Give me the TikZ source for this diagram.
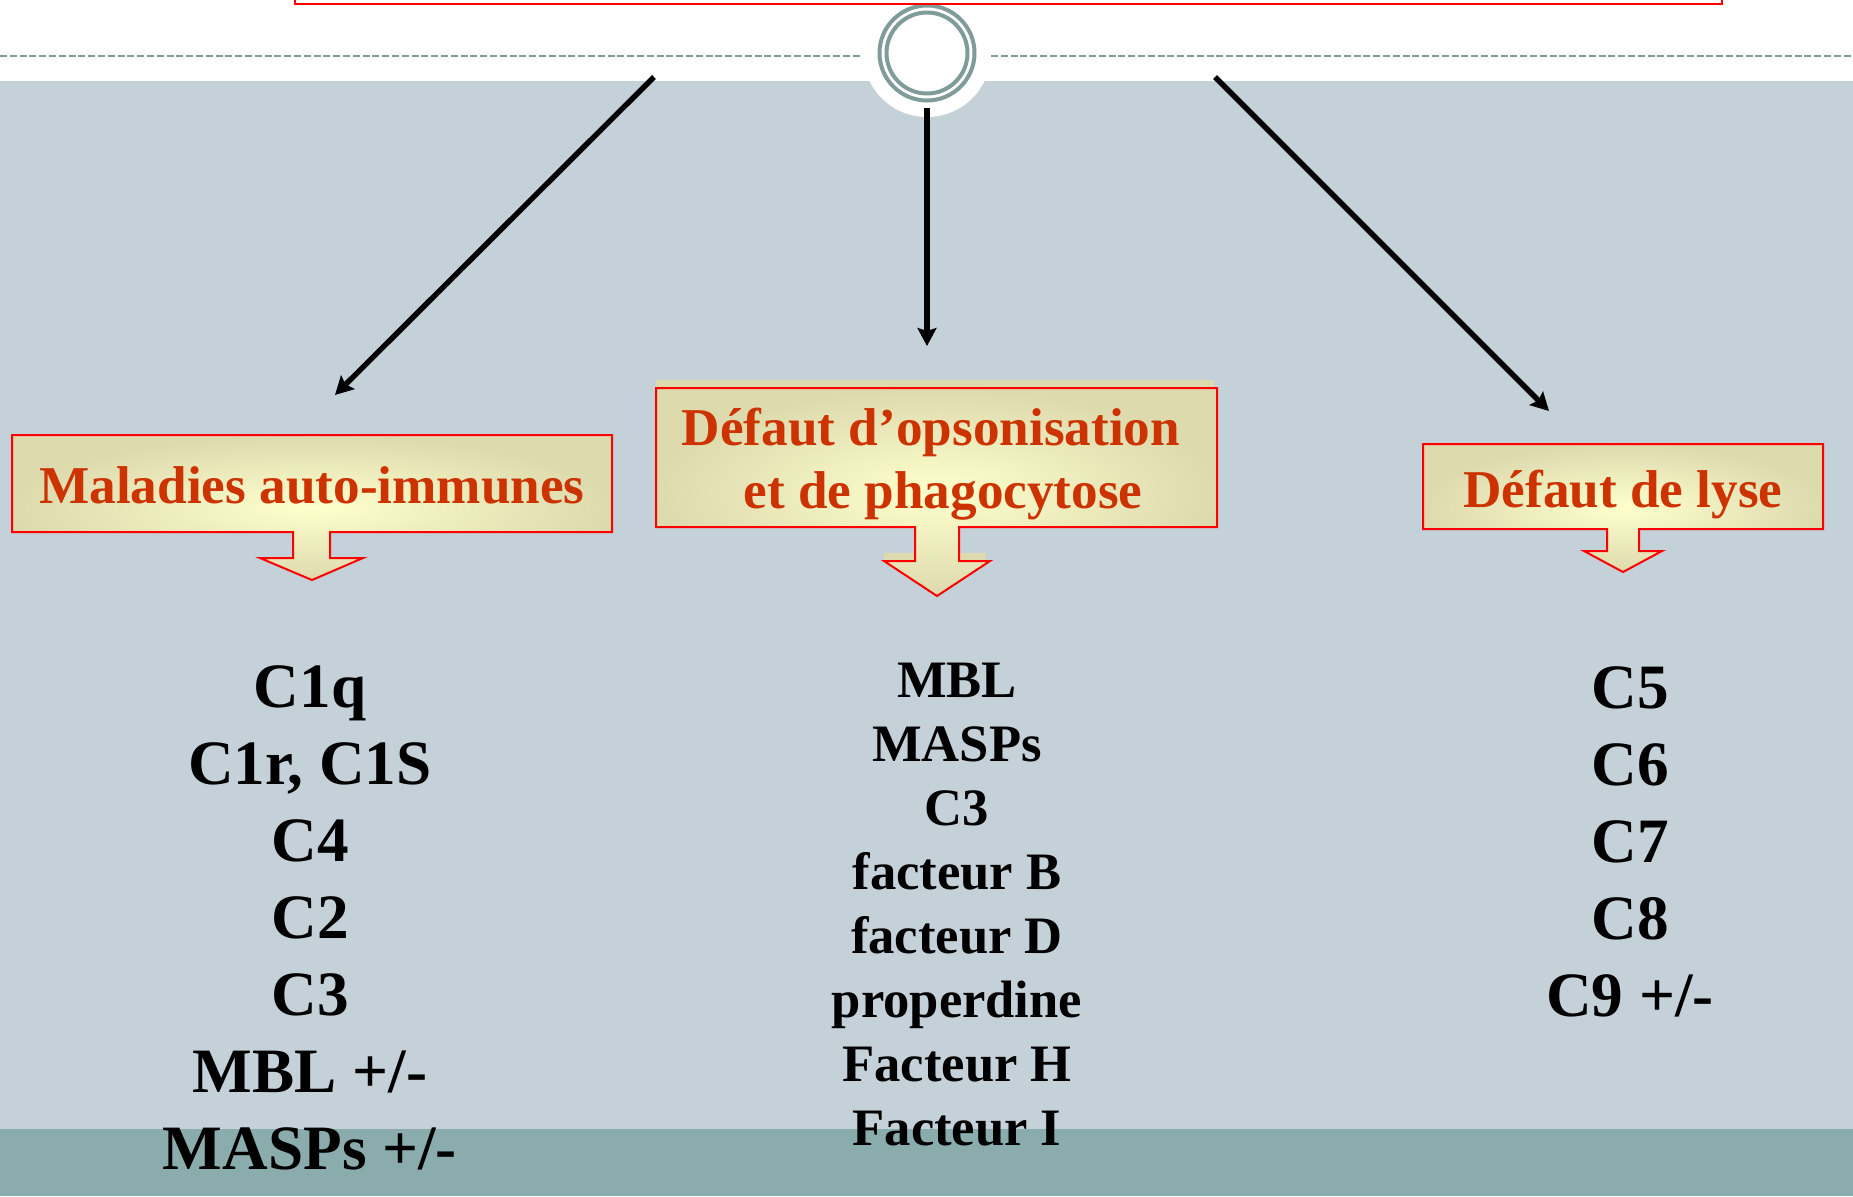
\documentclass[tikz,border=0pt]{standalone}
\usepackage{fontspec}
\setmainfont{Liberation Serif}
\usetikzlibrary{arrows.meta}
\definecolor{fond}{RGB}{197,209,216}
\definecolor{bande}{RGB}{138,172,172}
\definecolor{anneau}{RGB}{127,156,154}
\definecolor{rougeT}{RGB}{204,51,0}
\definecolor{beige}{RGB}{221,218,174}
\definecolor{creme}{RGB}{255,255,204}
\tikzset{
  fleche/.style={->,line width=2.7pt},
  bulle/.style={shade,draw=red,line width=1pt,shading=radial,inner color=creme,outer color=beige},
  titre/.style={text=rougeT,font=\fontsize{26.6}{30}\selectfont\bfseries,anchor=base},
  grand/.style={font=\fontsize{31.6}{36}\selectfont\bfseries,anchor=base},
  petit/.style={font=\fontsize{26.3}{30}\selectfont\bfseries,anchor=base}
}
\begin{document}
\begin{tikzpicture}[x=0.5pt,y=-0.5pt,>={Stealth[length=9pt,width=9.5pt,inset=1.5pt]}]
\useasboundingbox (0,0) rectangle (1853,1196);
% fond
\fill[white] (0,0) rectangle (1853,81);
\fill[fond] (0,81) rectangle (1853,1196);
\fill[bande] (0,1129) rectangle (1853,1196);
\coordinate (hub) at (927,53);
\fill[white] (hub) circle (64);
\draw[anneau,line width=1pt,dash pattern=on 3.5pt off 1.4pt] (0,56) -- (862,56) (991,56) -- (1853,56);
\draw[anneau,line width=2pt] (hub) circle (47.5) (hub) circle (40.5);
\draw[red,line width=1.2pt] (295,-20) rectangle (1722,4);
% fleches
\coordinate (gA) at (654,77); \coordinate (gB) at (335,395);
\coordinate (mA) at (927,108); \coordinate (mB) at (927,346);
\coordinate (dA) at (1215,77); \coordinate (dB) at (1549,411);
\draw[fleche] (gA) -- (gB);
\draw[fleche] (mA) -- (mB);
\draw[fleche] (dA) -- (dB);
% bulles
\path[bulle] (12,435) -- (612,435) -- (612,532) -- (330,532) -- (330,558) -- (363,558) -- (312,580)
  -- (260,558) -- (293,558) -- (293,532) -- (12,532) -- cycle;
\fill[beige] (656,380) rectangle (1214,400);
\fill[beige] (884,553) rectangle (986,561);
\path[bulle] (656,388) -- (1217,388) -- (1217,527) -- (959,527) -- (959,561) -- (990,561) -- (937,596)
  -- (884,561) -- (915,561) -- (915,527) -- (656,527) -- cycle;
\path[bulle] (1423,444) -- (1823,444) -- (1823,529) -- (1639,529) -- (1639,551) -- (1662,551) -- (1623,572)
  -- (1584,551) -- (1607,551) -- (1607,529) -- (1423,529) -- cycle;
\node[titre] (maladies) at (312,503) {Maladies auto-immunes};
\node[titre] (opsoA) at (931,445) {Défaut d’opsonisation};
\node[titre] (opsoB) at (943,508) {et de phagocytose};
\node[titre] (lyse) at (1623,507) {Défaut de lyse};
% listes
\foreach \t [count=\i] in {C1q,{C1r, C1S},C4,C2,C3,MBL +/-,MASPs +/-}
  \node[grand] (g\i) at (310,{707+77*(\i-1)}) {\t};
\foreach \t [count=\i] in {MBL,MASPs,C3,facteur B,facteur D,properdine,Facteur H,Facteur I}
  \node[petit] (m\i) at (957,{697+64*(\i-1)}) {\t};
\foreach \t [count=\i] in {C5,C6,C7,C8,C9 +/-}
  \node[grand] (d\i) at (1630,{708+77*(\i-1)}) {\t};
\end{tikzpicture}
\end{document}
